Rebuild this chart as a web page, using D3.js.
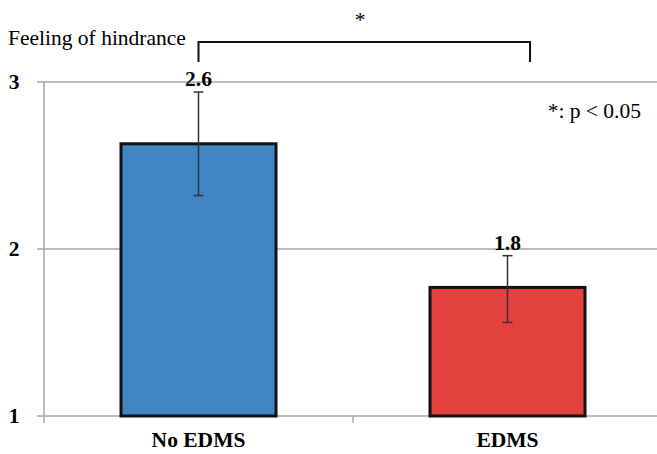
<!DOCTYPE html>
<html><head><meta charset="utf-8">
<script src="https://cdn.jsdelivr.net/npm/d3@7"></script>
<style>body{margin:0;background:#fff}</style>
</head><body>
<script>
const categories = ["No EDMS", "EDMS"];
const means = [2.63, 1.77];
const errLow = [2.32, 1.56];
const errHigh = [2.94, 1.96];
const valueLabels = ["2.6", "1.8"];
const yTicks = [1, 2, 3];
const colors = ["#3F86C3", "#E2413C"];

const W = 657, H = 454;
const svg = d3.select("body").append("svg").attr("width", W).attr("height", H);
const x = d3.scaleBand().domain(categories).range([44, 662]).paddingInner(0).paddingOuter(0);
const y = d3.scaleLinear().domain([1, 3]).range([416, 82]);
const serif = "'Liberation Serif','Times New Roman',serif";
const fs = 21.5;

// gridlines
svg.append("g").selectAll("line").data(yTicks).join("line")
  .attr("x1", 37).attr("x2", W).attr("y1", d => y(d)).attr("y2", d => y(d))
  .attr("stroke", "#a6a6a6").attr("stroke-width", 1.5);
// left axis line
svg.append("line").attr("x1", 44).attr("x2", 44).attr("y1", y(3)).attr("y2", y(1) + 7)
  .attr("stroke", "#a6a6a6").attr("stroke-width", 1.5);
// bottom ticks at band boundaries
svg.append("g").selectAll("line").data(categories.slice(1)).join("line")
  .attr("x1", d => x(d)).attr("x2", d => x(d)).attr("y1", y(1)).attr("y2", y(1) + 7)
  .attr("stroke", "#a6a6a6").attr("stroke-width", 1.5);

// y tick labels
svg.append("g").selectAll("text").data(yTicks).join("text")
  .attr("x", 14).attr("y", d => y(d) + 7).attr("text-anchor", "middle")
  .attr("font-family", serif).attr("font-weight", "bold").attr("font-size", fs)
  .text(d => d);

const bw = 155;
const cx = d => x(d) + x.bandwidth() / 2;
// bars
svg.append("g").selectAll("rect").data(categories).join("rect")
  .attr("x", d => cx(d) - bw / 2).attr("width", bw)
  .attr("y", (d, i) => y(means[i])).attr("height", (d, i) => y(1) - y(means[i]))
  .attr("fill", (d, i) => colors[i]).attr("stroke", "#111").attr("stroke-width", 3);

// error bars
const eb = svg.append("g").attr("stroke", "#333").attr("stroke-width", 1.5);
categories.forEach((c, i) => {
  eb.append("line").attr("x1", cx(c)).attr("x2", cx(c)).attr("y1", y(errHigh[i])).attr("y2", y(errLow[i]));
  eb.append("line").attr("x1", cx(c) - 5).attr("x2", cx(c) + 5).attr("y1", y(errHigh[i])).attr("y2", y(errHigh[i]));
  eb.append("line").attr("x1", cx(c) - 5).attr("x2", cx(c) + 5).attr("y1", y(errLow[i])).attr("y2", y(errLow[i]));
});

// value labels
svg.append("g").selectAll("text").data(categories).join("text")
  .attr("x", d => cx(d)).attr("y", (d, i) => y(errHigh[i]) - 6).attr("text-anchor", "middle")
  .attr("font-family", serif).attr("font-weight", "bold").attr("font-size", fs)
  .text((d, i) => valueLabels[i]);

// category labels
svg.append("g").selectAll("text").data(categories).join("text")
  .attr("x", d => cx(d)).attr("y", 447).attr("text-anchor", "middle")
  .attr("font-family", serif).attr("font-weight", "bold").attr("font-size", fs)
  .text(d => d);

// title
svg.append("text").attr("x", 8).attr("y", 45).attr("font-family", serif).attr("font-size", fs)
  .text("Feeling of hindrance");

// significance bracket
const bx1 = cx(categories[0]), bx2 = 530;
svg.append("path").attr("d", `M${bx1},62V42H${bx2}V62`).attr("fill", "none")
  .attr("stroke", "#111").attr("stroke-width", 2);
svg.append("text").attr("x", 360).attr("y", 27).attr("text-anchor", "middle")
  .attr("font-family", serif).attr("font-size", fs).text("*");
svg.append("text").attr("x", 641).attr("y", 118).attr("text-anchor", "end")
  .attr("font-family", serif).attr("font-size", fs).text("*: p < 0.05");
</script>
</body></html>
